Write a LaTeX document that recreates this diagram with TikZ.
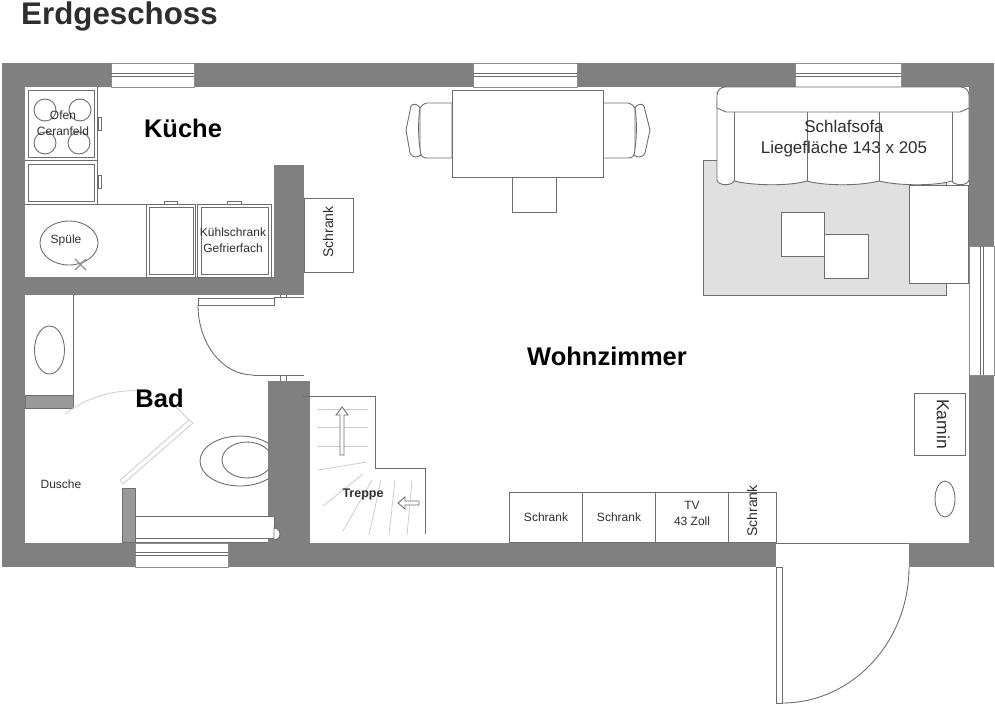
\documentclass[tikz,border=0pt]{standalone}
\usepackage{fontspec}
\setmainfont{Liberation Sans}
\usepackage{tikz}
\definecolor{wallgray}{HTML}{808080}
\definecolor{linegray}{HTML}{6E6E6E}
\definecolor{textgray}{HTML}{2E2E2E}
\tikzset{wall/.style={fill=wallgray,draw=none}}
\tikzset{furn/.style={draw=linegray,line width=0.9pt,fill=white}}
\tikzset{plain/.style={draw=linegray,line width=0.9pt}}
\tikzset{faint/.style={draw=black!20,line width=0.8pt}}
\tikzset{windowbox/.style={draw=black!45,line width=0.9pt,fill=white}}
\tikzset{roomlabel/.style={font=\fontsize{25.5}{28}\bfseries\selectfont,text=black,inner sep=0pt}}
\tikzset{small/.style={font=\fontsize{12}{16}\selectfont,text=textgray,align=center,inner sep=0pt}}
\tikzset{medium/.style={font=\fontsize{14}{16}\selectfont,text=textgray,align=center,inner sep=0pt}}

\begin{document}
\begin{tikzpicture}[x=1pt,y=-1pt]
        \useasboundingbox (0,0) rectangle (995,704);
        % rug and toilet lie under the rest
        \path[draw=linegray,line width=0.9pt,fill=black!12] (703,160) rectangle (946,295);
        \draw[plain,fill=white] (240,461) ellipse (40 and 25);
        \draw[plain] (247,460) ellipse (25 and 18);
        % walls
        \path[wall] (2,63) rectangle (994,87);
        \path[wall] (2,543) rectangle (994,567);
        \path[wall] (2,63) rectangle (25,567);
        \path[wall] (969,63) rectangle (994,567);
        \path[wall] (25,277) rectangle (304,295);
        \path[wall] (274,165) rectangle (304,295);
        \path[wall] (268,381) rectangle (310,543);
        % windows
        \foreach \xa/\xb in {111/194,473/577,795/901} {
            \path[windowbox] (\xa,63) rectangle (\xb,87);
            \draw[plain] (\xa,73) -- (\xb,73);
            \draw[plain] (\xa,76) -- (\xb,76);
        }
        \path[windowbox] (135,543) rectangle (228,567);
        \draw[plain] (135,552) -- (228,552);
        \draw[plain] (135,555) -- (228,555);
        \path[windowbox] (969,246) rectangle (994,375);
        \draw[plain] (980,246) -- (980,375);
        \draw[plain] (983,246) -- (983,375);
        % kitchen
        \draw[plain] (25,204) -- (146,204);
        \draw[plain] (97,87) -- (97,204);
        \draw[plain] (25,160) -- (97,160);
        \draw[furn] (28,90) rectangle (94,157);
        \draw[furn] (28,164) rectangle (94,201);
        \draw[furn] (98,117) rectangle (101,130);
        \draw[furn] (98,175) rectangle (101,188);
        \foreach \bx/\by in {45/110,80/110,45/143,79/143} {
            \draw[plain] (\bx,\by) circle (11);
        }
        \draw[furn] (146,204) rectangle (195,277);
        \draw[furn] (149,207) rectangle (193,274);
        \draw[furn] (197,204) rectangle (271,277);
        \draw[furn] (201,207) rectangle (268,274);
        \draw[furn] (164,201) rectangle (177,204);
        \draw[furn] (227,201) rectangle (241,204);
        \draw[plain] (69,243) ellipse (29 and 22);
        \draw[draw=black!45,line width=1.2pt] (75,259) -- (86,270);
        \draw[draw=black!45,line width=1.2pt] (86,259) -- (75,270);
        \node[furn,minimum width=49pt,minimum height=74pt,inner sep=0pt] (schrankkueche) at (328.5,235) {};
        % door kitchen side
        \draw[furn] (198,298) rectangle (274,305);
        \draw[plain] (198,305) arc[start angle=180,end angle=90,x radius=55,y radius=70];
        \draw[plain] (253,375) -- (304,375);
        \draw[plain] (274,297.5) -- (304,297.5);
        \draw[plain] (280,295) -- (280,298);
        \draw[plain] (286,295) -- (286,298);
        \draw[plain] (280,375) -- (280,381);
        \draw[plain] (286,375) -- (286,381);
        % bath
        \draw[plain] (73,295) -- (73,395);
        \draw[draw=linegray,fill=black!40] (25,395) rectangle (73,408);
        \draw[plain] (49.5,350) ellipse (15 and 24);
        \draw[draw=linegray,fill=black!40] (122,488) rectangle (135,542);
        \draw[furn] (135,516) rectangle (274,538);
        \draw[plain] (135,542) -- (268,542);
        \draw[plain,fill=white] (274,528) arc[start angle=-90,end angle=90,radius=6] -- cycle;
        \draw[faint,fill=white] (120,480) -- (123,484) -- (193,423) -- (189,420) -- cycle;
        \draw[faint] (65,414) .. controls (85,398) and (115,389) .. (140,391);
        \draw[faint] (176,407) -- (189,420);
        % stairs
        \draw[plain] (303,396) -- (375,396) -- (375,468) -- (425,468) -- (425,534);
        \foreach \ty in {409,427,446} {
            \draw[faint] (317,\ty) -- (368,\ty);
        }
        \draw[faint] (318,470) -- (367,462);
        \draw[faint] (323,506) -- (363,474);
        \draw[faint] (343,531) -- (372,480);
        \draw[faint] (369,535) -- (381,480);
        \draw[faint] (389,535) -- (395,480);
        \draw[faint] (407,535) -- (412,480);
        \draw[furn] (340,455) -- (344,455) -- (344,415) -- (348,415) -- (342,407) -- (336,415) -- (340,415) -- cycle;
        \draw[furn] (419,501) -- (419,505) -- (405,505) -- (405,509) -- (398,503) -- (405,497) -- (405,501) -- cycle;
        % dining table
        \draw[furn] (452,103) -- (427,103) .. controls (423,104) and (421,106) .. (420,108) -- (420,153) .. controls (421,156) and (423,158) .. (427,158) -- (452,158) -- cycle;
        \draw[furn] (420,108) .. controls (418,104) and (413,103) .. (411,106) -- (406,130) -- (410,153) .. controls (412,158) and (418,158) .. (421,155) .. controls (418,140) and (418,120) .. (420,108);
        \draw[furn] (603,103) -- (628,103) .. controls (632,104) and (634,106) .. (635,108) -- (635,153) .. controls (634,156) and (632,158) .. (628,158) -- (603,158) -- cycle;
        \draw[furn] (635,108) .. controls (637,104) and (642,103) .. (644,106) -- (650,130) -- (645,153) .. controls (643,158) and (637,158) .. (634,155) .. controls (637,140) and (637,120) .. (635,108);
        \draw[furn] (512,177) rectangle (556,212);
        \draw[furn] (452,90) rectangle (603,177);
        % sofa
        \draw[furn] (909,185) rectangle (968,283);
        \draw[furn] (717,100) -- (717,180) .. controls (718,186) and (732,186) .. (734,181)
            .. controls (755,186) and (790,186) .. (807,181)
            .. controls (825,186) and (860,186) .. (879,181)
            .. controls (900,186) and (935,186) .. (952,181)
            .. controls (954,186) and (968,186) .. (969,180) -- (969,100) -- cycle;
        \draw[plain] (734,112) -- (734,181);
        \draw[plain] (807,112) -- (807,181);
        \draw[plain] (879,112) -- (879,181);
        \draw[plain] (952,112) -- (952,181);
        \draw[furn,rounded corners=8pt] (717,87) -- (969,87) -- (969,100) .. controls (969,108) and (960,112) .. (952,112) -- (734,112) .. controls (726,112) and (717,108) .. (717,100) -- cycle;
        \draw[furn] (781,212) rectangle (824,256);
        \draw[furn] (824,234) rectangle (868,278);
        % furniture along the wall
        \node[furn,minimum width=73pt,minimum height=50pt,inner sep=0pt] (schrankeins) at (546,517) {};
        \node[furn,minimum width=73pt,minimum height=50pt,inner sep=0pt] (schrankzwei) at (619,517) {};
        \node[furn,minimum width=73pt,minimum height=50pt,inner sep=0pt] (tvbox) at (692,517) {};
        \node[furn,minimum width=48pt,minimum height=50pt,inner sep=0pt] (schrankdrei) at (752,517) {};
        \node[furn,minimum width=51pt,minimum height=62pt,inner sep=0pt] (kaminbox) at (939.5,424) {};
        \draw[plain] (945,499) ellipse (10 and 18);
        % entrance door
        \path[fill=white] (776,543) rectangle (909,567);
        \draw[plain] (776,543) -- (909,543);
        \draw[furn] (776,567) rectangle (782,703);
        \draw[plain] (909,567) arc[start angle=0,end angle=90,x radius=127,y radius=136];
        % labels
        \node[anchor=base west,inner sep=0pt,font=\fontsize{31.3}{34}\bfseries\selectfont,text=textgray] (titel) at (21,24) {Erdgeschoss};
        \node[roomlabel] (kueche) at (183,128) {Küche};
        \node[roomlabel] (bad) at (159.5,398) {Bad};
        \node[roomlabel] (wohnzimmer) at (607,356) {Wohnzimmer};
        \node[small] (ofen) at (63,123) {Ofen\\Ceranfeld};
        \node[small] (spuele) at (66,240) {Spüle};
        \node[small] (kuehl) at (233,240) {Kühlschrank\\Gefrierfach};
        \node[medium,rotate=90] (schranktext) at (328,232) {Schrank};
        \node[small] (dusche) at (61,484) {Dusche};
        \node[small,font=\fontsize{12.5}{15}\bfseries\selectfont] (treppe) at (363,494) {Treppe};
        \node[small] at (schrankeins) {Schrank};
        \node[small] at (schrankzwei) {Schrank};
        \node[small] at (692,513) {TV\\43 Zoll};
        \node[medium,rotate=90] at (752,511) {Schrank};
        \node[rotate=-90,inner sep=0pt,font=\fontsize{17.5}{20}\selectfont,text=textgray] (kamin) at (943,424) {Kamin};
        \node[inner sep=0pt,align=center,font=\fontsize{17}{21}\selectfont,text=textgray] (schlafsofa) at (844,139) {Schlafsofa\\Liegefläche 143 x 205};
    \end{tikzpicture}
\end{document}
